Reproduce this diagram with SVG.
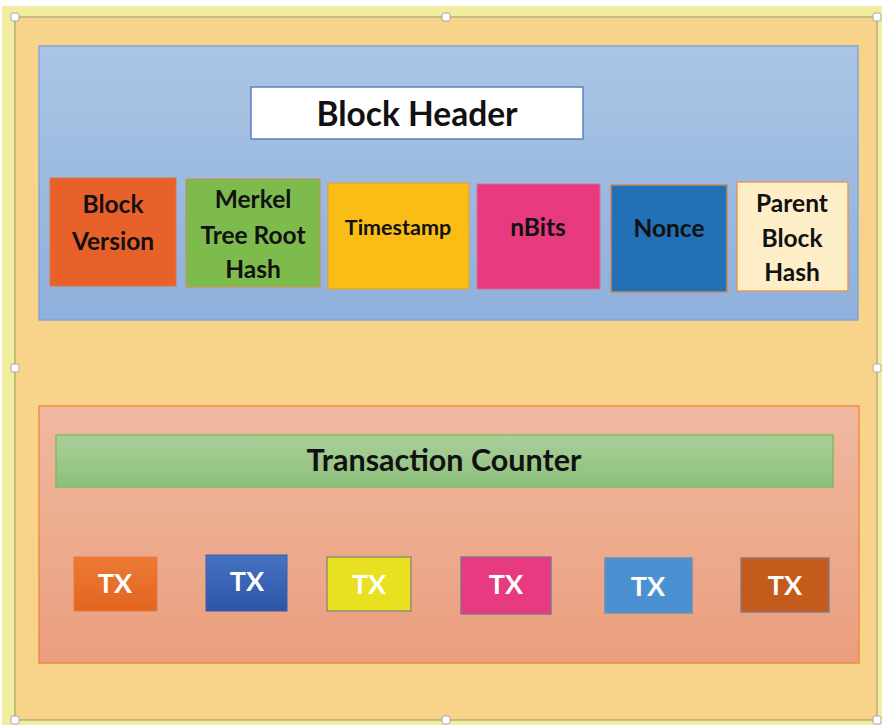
<svg xmlns="http://www.w3.org/2000/svg" width="882" height="725" viewBox="0 0 882 725">
  <defs>
    <linearGradient id="gBlue" x1="0" y1="0" x2="0" y2="1">
      <stop offset="0" stop-color="#aac5e5"/>
      <stop offset="1" stop-color="#8eb0dc"/>
    </linearGradient>
    <linearGradient id="gSalmon" x1="0" y1="0" x2="0" y2="1">
      <stop offset="0" stop-color="#efb9a0"/>
      <stop offset="1" stop-color="#eb9e7e"/>
    </linearGradient>
    <linearGradient id="gGreen" x1="0" y1="0" x2="0" y2="1">
      <stop offset="0" stop-color="#abcf9a"/>
      <stop offset="1" stop-color="#8cc07a"/>
    </linearGradient>
    <linearGradient id="gTx1" x1="0" y1="0" x2="0" y2="1">
      <stop offset="0" stop-color="#ec7a36"/>
      <stop offset="1" stop-color="#e2651f"/>
    </linearGradient>
    <linearGradient id="gTx2" x1="0" y1="0" x2="0" y2="1">
      <stop offset="0" stop-color="#4673c2"/>
      <stop offset="1" stop-color="#2c55a8"/>
    </linearGradient>
    <style>
      .lbl { font-family: Lato, "Open Sans", "Liberation Sans", sans-serif; font-weight: bold; text-anchor: middle; fill: #111111; }
      .tx { font-family: Lato, "Open Sans", "Liberation Sans", sans-serif; font-weight: bold; text-anchor: middle; fill: #ffffff; font-size: 27px; }
      .field { font-size: 24.5px; }
      .handle { fill: #ffffff; stroke: #a8a8a8; stroke-width: 1; }
    </style>
  </defs>

  <!-- canvas and outer block frame -->
  <rect x="0" y="0" width="882" height="725" fill="#ffffff"/>
  <rect x="2" y="6" width="880" height="719" fill="#f3eda2"/>
  <rect id="block" x="15" y="17" width="862" height="703" fill="#f8d48a" stroke="#b9ad7c" stroke-width="1.5"/>

  <!-- header panel -->
  <g id="header-panel">
    <rect x="39" y="46" width="819" height="274" fill="url(#gBlue)" stroke="#86a7d2" stroke-width="1.5"/>
  </g>
  <g id="block-header">
    <rect x="251" y="87" width="332" height="52" fill="#ffffff" stroke="#5f7fbf" stroke-width="1.5"/>
    <text class="lbl" x="417" y="126" font-size="33.5">Block Header</text>
  </g>

  <g id="block-version">
    <rect x="50" y="178" width="126" height="108" fill="#e8602a" stroke="#d9774a" stroke-width="1"/>
    <text class="lbl field" x="113" y="213">Block</text>
    <text class="lbl field" x="113" y="250">Version</text>
  </g>
  <g id="merkle-root">
    <rect x="186" y="179" width="134" height="108" fill="#7dbb4d" stroke="#d08a52" stroke-width="1"/>
    <text class="lbl field" x="253" y="208">Merkel</text>
    <text class="lbl field" x="253" y="244">Tree Root</text>
    <text class="lbl field" x="253" y="278">Hash</text>
  </g>
  <g id="timestamp">
    <rect x="328" y="183" width="141" height="106" fill="#f9bd16" stroke="#e59a3a" stroke-width="1"/>
    <text class="lbl" x="398" y="235" font-size="21.5">Timestamp</text>
  </g>
  <g id="nbits">
    <rect x="477" y="184" width="123" height="105" fill="#e83a7e" stroke="#d9708c" stroke-width="1"/>
    <text class="lbl field" x="538" y="236">nBits</text>
  </g>
  <g id="nonce">
    <rect x="611" y="185" width="116" height="107" fill="#2270b5" stroke="#c98a5a" stroke-width="1.5"/>
    <text class="lbl field" x="669" y="237">Nonce</text>
  </g>
  <g id="parent-hash">
    <rect x="737" y="182" width="111" height="109" fill="#fdeec7" stroke="#e49a55" stroke-width="1.5"/>
    <text class="lbl field" x="792" y="212">Parent</text>
    <text class="lbl field" x="792" y="247">Block</text>
    <text class="lbl field" x="792" y="281">Hash</text>
  </g>

  <!-- transactions panel -->
  <g id="tx-panel">
    <rect x="39" y="406" width="820" height="257" fill="url(#gSalmon)" stroke="#f18a42" stroke-width="1.5"/>
  </g>
  <g id="tx-counter">
    <rect x="56" y="435" width="777" height="52" fill="url(#gGreen)" stroke="#7fbc62" stroke-width="1.5"/>
    <text class="lbl" x="444" y="471" font-size="30.5">Transaction Counter</text>
  </g>

  <g id="tx1">
    <rect x="74" y="557" width="83" height="54" fill="url(#gTx1)" stroke="#e57a40" stroke-width="1"/>
    <text class="tx" x="115" y="593">TX</text>
  </g>
  <g id="tx2">
    <rect x="206" y="555" width="81" height="56" fill="url(#gTx2)" stroke="#3a5ea8" stroke-width="1"/>
    <text class="tx" x="247" y="591">TX</text>
  </g>
  <g id="tx3">
    <rect x="327" y="557" width="84" height="54" fill="#e9e022" stroke="#8f8f78" stroke-width="1.5"/>
    <text class="tx" x="369" y="594">TX</text>
  </g>
  <g id="tx4">
    <rect x="461" y="557" width="90" height="57" fill="#e83a80" stroke="#8c6f8c" stroke-width="1.5"/>
    <text class="tx" x="506" y="594">TX</text>
  </g>
  <g id="tx5">
    <rect x="605" y="558" width="87" height="55" fill="#4b91d1" stroke="#6a8fb8" stroke-width="1.5"/>
    <text class="tx" x="648" y="596">TX</text>
  </g>
  <g id="tx6">
    <rect x="741" y="558" width="88" height="54" fill="#c45a1b" stroke="#8c7a80" stroke-width="1.5"/>
    <text class="tx" x="785" y="595">TX</text>
  </g>

  <!-- selection handles on the outer frame -->
  <g id="handles">
    <rect class="handle" x="11" y="13" width="8" height="8" rx="2"/>
    <rect class="handle" x="442" y="13" width="8" height="8" rx="2"/>
    <rect class="handle" x="873" y="13" width="8" height="8" rx="2"/>
    <rect class="handle" x="11" y="364" width="8" height="8" rx="2"/>
    <rect class="handle" x="873" y="364" width="8" height="8" rx="2"/>
    <rect class="handle" x="11" y="716" width="8" height="8" rx="2"/>
    <rect class="handle" x="442" y="716" width="8" height="8" rx="2"/>
    <rect class="handle" x="873" y="716" width="8" height="8" rx="2"/>
  </g>
</svg>
